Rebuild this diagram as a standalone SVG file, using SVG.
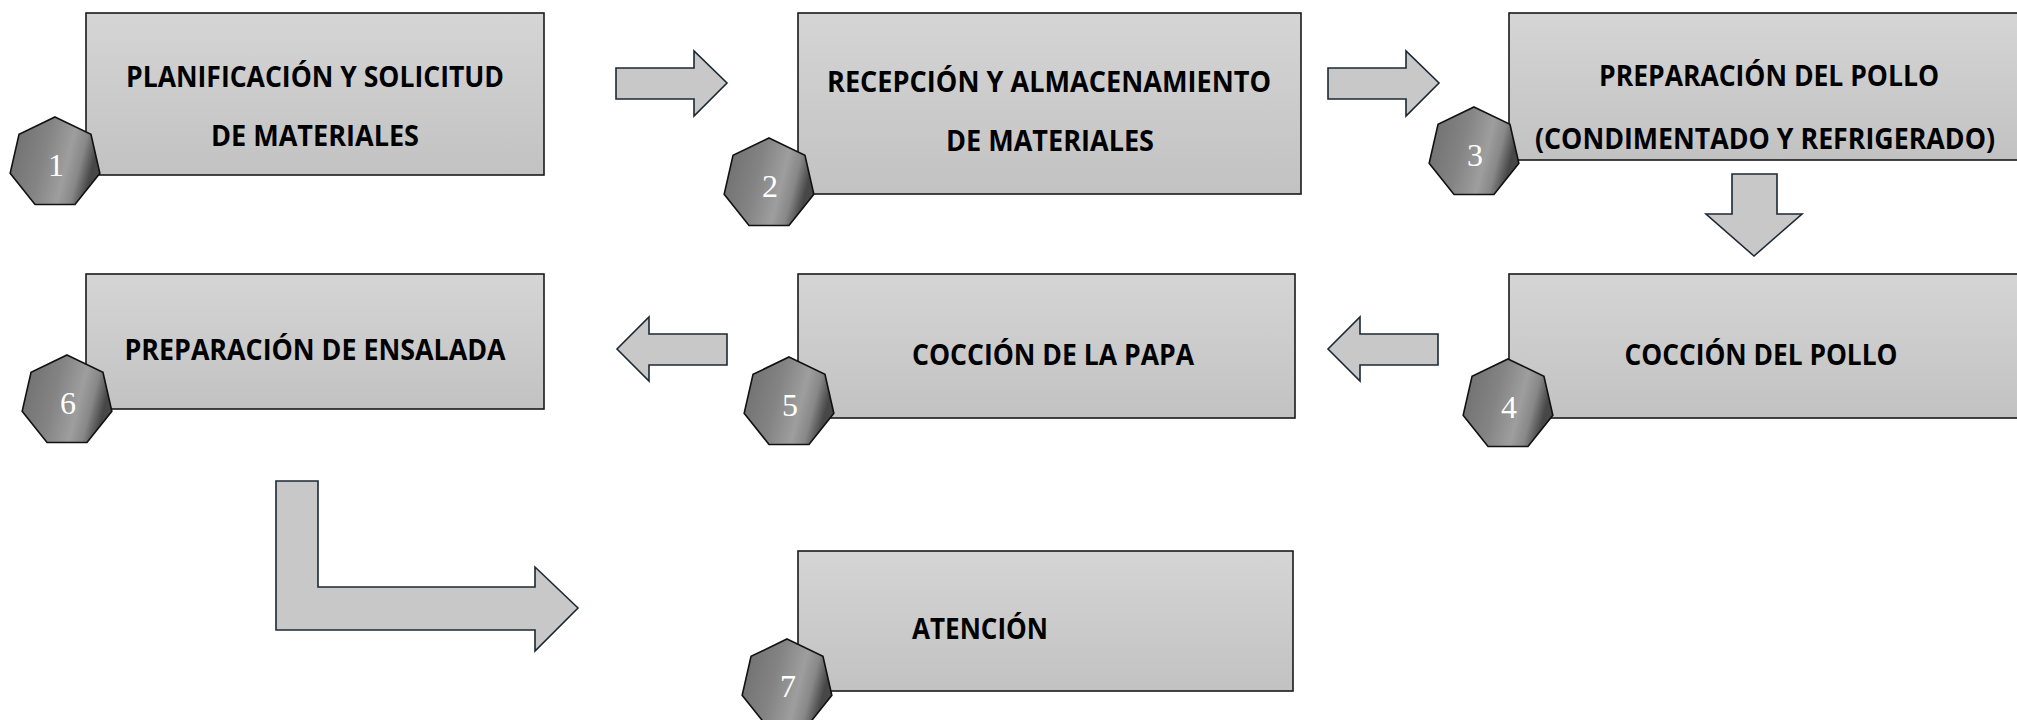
<svg xmlns="http://www.w3.org/2000/svg" xmlns:xlink="http://www.w3.org/1999/xlink" width="2017" height="720" viewBox="0 0 2017 720">
<defs>
<linearGradient id="boxg" x1="0" y1="0" x2="0" y2="1">
<stop offset="0" stop-color="#d5d5d5"/>
<stop offset="1" stop-color="#c2c2c2"/>
</linearGradient>
<linearGradient id="hepg" x1="0" y1="0" x2="1" y2="0.25">
<stop offset="0" stop-color="#6c6c6c"/>
<stop offset="0.45" stop-color="#848484"/>
<stop offset="0.72" stop-color="#9e9e9e"/>
<stop offset="0.86" stop-color="#888888"/>
<stop offset="1" stop-color="#474747"/>
</linearGradient>
<polygon id="hept" points="0,-46 35.96,-28.68 44.85,10.24 19.96,41.45 -19.96,41.45 -44.85,10.24 -35.96,-28.68"/>
</defs>
<style>
.box{fill:url(#boxg);stroke:#1a1a1a;stroke-width:1.6}
.hex{fill:url(#hepg);stroke:#111;stroke-width:1.6}
.num{font-family:"Liberation Serif","Times New Roman",serif;font-size:32px;fill:#ffffff;text-anchor:middle}
.lbl{font-family:"Open Sans","Liberation Sans",sans-serif;font-weight:700;font-size:29px;fill:#000;text-anchor:middle}
.arr{fill:#c8c8c8;stroke:#1c2833;stroke-width:1.6;stroke-linejoin:miter}
</style>
<rect width="2017" height="720" fill="#ffffff"/>
<g id="connectors">
<polygon class="arr" points="616,68 694,68 694,51 727,83 694,116 694,99 616,99"/>
<polygon class="arr" points="1328,68 1406,68 1406,51 1439,83 1406,116 1406,99 1328,99"/>
<polygon class="arr" points="1732,174 1777,174 1777,214 1802,214 1754,256 1706,214 1732,214"/>
<polygon class="arr" points="1438,334 1360,334 1360,317 1328,349 1360,381 1360,365 1438,365"/>
<polygon class="arr" points="727,334 649,334 649,317 617,349 649,381 649,365 727,365"/>
<polygon class="arr" points="276,481 318,481 318,587 535,587 535,567 578,608 535,651 535,630 276,630"/>
</g>
<g id="node1">
<rect class="box" x="86" y="13" width="458" height="162"/>
<text class="lbl" x="315" y="87" textLength="378" lengthAdjust="spacingAndGlyphs">PLANIFICACIÓN Y SOLICITUD</text>
<text class="lbl" x="315" y="146" textLength="208" lengthAdjust="spacingAndGlyphs">DE MATERIALES</text>
<use xlink:href="#hept" class="hex" x="55" y="163"/>
<text class="num" x="56" y="176">1</text>
</g>
<g id="node2">
<rect class="box" x="798" y="13" width="503" height="181"/>
<text class="lbl" x="1049" y="92" textLength="444" lengthAdjust="spacingAndGlyphs">RECEPCIÓN Y ALMACENAMIENTO</text>
<text class="lbl" x="1050" y="151" textLength="208" lengthAdjust="spacingAndGlyphs">DE MATERIALES</text>
<use xlink:href="#hept" class="hex" x="769" y="184"/>
<text class="num" x="770" y="197">2</text>
</g>
<g id="node3">
<rect class="box" x="1509" y="13" width="530" height="147"/>
<text class="lbl" x="1769" y="86" textLength="340" lengthAdjust="spacingAndGlyphs">PREPARACIÓN DEL POLLO</text>
<text class="lbl" x="1765" y="149" textLength="460" lengthAdjust="spacingAndGlyphs">(CONDIMENTADO Y REFRIGERADO)</text>
<use xlink:href="#hept" class="hex" x="1474" y="153"/>
<text class="num" x="1475" y="166">3</text>
</g>
<g id="node4">
<rect class="box" x="1509" y="274" width="530" height="144"/>
<text class="lbl" x="1761" y="365" textLength="273" lengthAdjust="spacingAndGlyphs">COCCIÓN DEL POLLO</text>
<use xlink:href="#hept" class="hex" x="1508" y="405"/>
<text class="num" x="1509" y="418">4</text>
</g>
<g id="node5">
<rect class="box" x="798" y="274" width="497" height="144"/>
<text class="lbl" x="1053" y="365" textLength="282" lengthAdjust="spacingAndGlyphs">COCCIÓN DE LA PAPA</text>
<use xlink:href="#hept" class="hex" x="789" y="403"/>
<text class="num" x="790" y="416">5</text>
</g>
<g id="node6">
<rect class="box" x="86" y="274" width="458" height="135"/>
<text class="lbl" x="315" y="360" textLength="381" lengthAdjust="spacingAndGlyphs">PREPARACIÓN DE ENSALADA</text>
<use xlink:href="#hept" class="hex" x="67" y="401"/>
<text class="num" x="68" y="414">6</text>
</g>
<g id="node7">
<rect class="box" x="798" y="551" width="495" height="140"/>
<text class="lbl" x="980" y="639" textLength="136" lengthAdjust="spacingAndGlyphs">ATENCIÓN</text>
<use xlink:href="#hept" class="hex" x="787" y="685"/>
<text class="num" x="788" y="697">7</text>
</g>
</svg>
